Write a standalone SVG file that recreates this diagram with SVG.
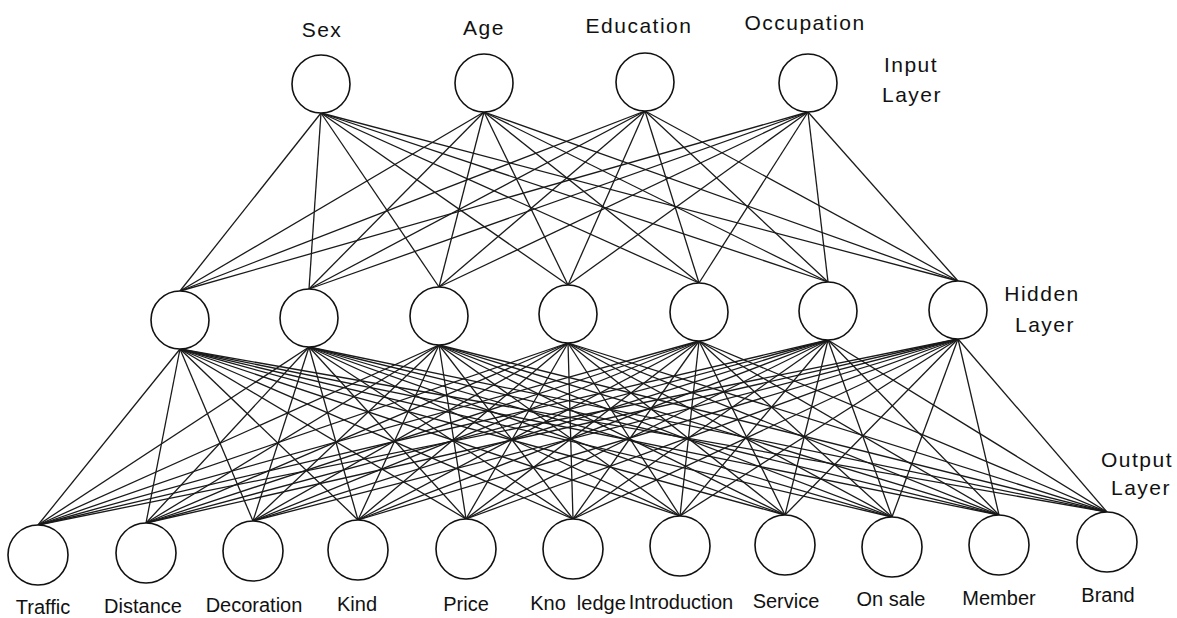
<svg xmlns="http://www.w3.org/2000/svg" width="1177" height="618" viewBox="0 0 1177 618">
<style>
.n{fill:#fff;stroke:#111;stroke-width:1.6}
.e line{stroke:#1a1a1a;stroke-width:1.3}
.t{font-family:"Liberation Sans",Arial,sans-serif;font-size:21px;fill:#111;text-anchor:middle;letter-spacing:1.5px}
.o{font-family:"Liberation Sans",Arial,sans-serif;font-size:20px;fill:#111;text-anchor:middle}
</style>
<rect width="1177" height="618" fill="#fff"/>
<g id="connectors" class="e">
<line x1="321" y1="113" x2="180" y2="291"/><line x1="321" y1="113" x2="309" y2="289"/><line x1="321" y1="113" x2="439" y2="287"/><line x1="321" y1="113" x2="568" y2="285"/><line x1="321" y1="113" x2="699" y2="283"/><line x1="321" y1="113" x2="828" y2="282"/><line x1="321" y1="113" x2="958" y2="281"/>
<line x1="484" y1="112" x2="180" y2="291"/><line x1="484" y1="112" x2="309" y2="289"/><line x1="484" y1="112" x2="439" y2="287"/><line x1="484" y1="112" x2="568" y2="285"/><line x1="484" y1="112" x2="699" y2="283"/><line x1="484" y1="112" x2="828" y2="282"/><line x1="484" y1="112" x2="958" y2="281"/>
<line x1="645" y1="111" x2="180" y2="291"/><line x1="645" y1="111" x2="309" y2="289"/><line x1="645" y1="111" x2="439" y2="287"/><line x1="645" y1="111" x2="568" y2="285"/><line x1="645" y1="111" x2="699" y2="283"/><line x1="645" y1="111" x2="828" y2="282"/><line x1="645" y1="111" x2="958" y2="281"/>
<line x1="808" y1="112" x2="180" y2="291"/><line x1="808" y1="112" x2="309" y2="289"/><line x1="808" y1="112" x2="439" y2="287"/><line x1="808" y1="112" x2="568" y2="285"/><line x1="808" y1="112" x2="699" y2="283"/><line x1="808" y1="112" x2="828" y2="282"/><line x1="808" y1="112" x2="958" y2="281"/>
<line x1="180" y1="349" x2="38" y2="525"/><line x1="180" y1="349" x2="146" y2="523"/><line x1="180" y1="349" x2="253" y2="521"/><line x1="180" y1="349" x2="358" y2="520"/><line x1="180" y1="349" x2="466" y2="519"/><line x1="180" y1="349" x2="573" y2="519"/><line x1="180" y1="349" x2="680" y2="516"/><line x1="180" y1="349" x2="785" y2="515"/><line x1="180" y1="349" x2="892" y2="517"/><line x1="180" y1="349" x2="999" y2="515"/><line x1="180" y1="349" x2="1107" y2="512"/>
<line x1="309" y1="347" x2="38" y2="525"/><line x1="309" y1="347" x2="146" y2="523"/><line x1="309" y1="347" x2="253" y2="521"/><line x1="309" y1="347" x2="358" y2="520"/><line x1="309" y1="347" x2="466" y2="519"/><line x1="309" y1="347" x2="573" y2="519"/><line x1="309" y1="347" x2="680" y2="516"/><line x1="309" y1="347" x2="785" y2="515"/><line x1="309" y1="347" x2="892" y2="517"/><line x1="309" y1="347" x2="999" y2="515"/><line x1="309" y1="347" x2="1107" y2="512"/>
<line x1="439" y1="345" x2="38" y2="525"/><line x1="439" y1="345" x2="146" y2="523"/><line x1="439" y1="345" x2="253" y2="521"/><line x1="439" y1="345" x2="358" y2="520"/><line x1="439" y1="345" x2="466" y2="519"/><line x1="439" y1="345" x2="573" y2="519"/><line x1="439" y1="345" x2="680" y2="516"/><line x1="439" y1="345" x2="785" y2="515"/><line x1="439" y1="345" x2="892" y2="517"/><line x1="439" y1="345" x2="999" y2="515"/><line x1="439" y1="345" x2="1107" y2="512"/>
<line x1="568" y1="343" x2="38" y2="525"/><line x1="568" y1="343" x2="146" y2="523"/><line x1="568" y1="343" x2="253" y2="521"/><line x1="568" y1="343" x2="358" y2="520"/><line x1="568" y1="343" x2="466" y2="519"/><line x1="568" y1="343" x2="573" y2="519"/><line x1="568" y1="343" x2="680" y2="516"/><line x1="568" y1="343" x2="785" y2="515"/><line x1="568" y1="343" x2="892" y2="517"/><line x1="568" y1="343" x2="999" y2="515"/><line x1="568" y1="343" x2="1107" y2="512"/>
<line x1="699" y1="341" x2="38" y2="525"/><line x1="699" y1="341" x2="146" y2="523"/><line x1="699" y1="341" x2="253" y2="521"/><line x1="699" y1="341" x2="358" y2="520"/><line x1="699" y1="341" x2="466" y2="519"/><line x1="699" y1="341" x2="573" y2="519"/><line x1="699" y1="341" x2="680" y2="516"/><line x1="699" y1="341" x2="785" y2="515"/><line x1="699" y1="341" x2="892" y2="517"/><line x1="699" y1="341" x2="999" y2="515"/><line x1="699" y1="341" x2="1107" y2="512"/>
<line x1="828" y1="340" x2="38" y2="525"/><line x1="828" y1="340" x2="146" y2="523"/><line x1="828" y1="340" x2="253" y2="521"/><line x1="828" y1="340" x2="358" y2="520"/><line x1="828" y1="340" x2="466" y2="519"/><line x1="828" y1="340" x2="573" y2="519"/><line x1="828" y1="340" x2="680" y2="516"/><line x1="828" y1="340" x2="785" y2="515"/><line x1="828" y1="340" x2="892" y2="517"/><line x1="828" y1="340" x2="999" y2="515"/><line x1="828" y1="340" x2="1107" y2="512"/>
<line x1="958" y1="339" x2="38" y2="525"/><line x1="958" y1="339" x2="146" y2="523"/><line x1="958" y1="339" x2="253" y2="521"/><line x1="958" y1="339" x2="358" y2="520"/><line x1="958" y1="339" x2="466" y2="519"/><line x1="958" y1="339" x2="573" y2="519"/><line x1="958" y1="339" x2="680" y2="516"/><line x1="958" y1="339" x2="785" y2="515"/><line x1="958" y1="339" x2="892" y2="517"/><line x1="958" y1="339" x2="999" y2="515"/><line x1="958" y1="339" x2="1107" y2="512"/>
</g>
<g id="input-layer">
<g id="in-sex"><circle class="n" cx="321" cy="84" r="29"/><text class="t" x="322" y="37">Sex</text></g>
<g id="in-age"><circle class="n" cx="484" cy="83" r="29"/><text class="t" x="484" y="35">Age</text></g>
<g id="in-education"><circle class="n" cx="645" cy="82" r="29"/><text class="t" x="639" y="33">Education</text></g>
<g id="in-occupation"><circle class="n" cx="808" cy="83" r="29"/><text class="t" x="805" y="30">Occupation</text></g>
<g id="input-label"><text class="t" x="911" y="72">Input</text><text class="t" x="912" y="102">Layer</text></g>
</g>
<g id="hidden-layer">
<g id="h1"><circle class="n" cx="180" cy="320" r="29"/></g>
<g id="h2"><circle class="n" cx="309" cy="318" r="29"/></g>
<g id="h3"><circle class="n" cx="439" cy="316" r="29"/></g>
<g id="h4"><circle class="n" cx="568" cy="314" r="29"/></g>
<g id="h5"><circle class="n" cx="699" cy="312" r="29"/></g>
<g id="h6"><circle class="n" cx="828" cy="311" r="29"/></g>
<g id="h7"><circle class="n" cx="958" cy="310" r="29"/></g>
<g id="hidden-label"><text class="t" x="1042" y="301">Hidden</text><text class="t" x="1045" y="332">Layer</text></g>
</g>
<g id="output-layer">
<g id="o-traffic"><circle class="n" cx="38" cy="555" r="30"/><text class="o" x="43" y="614">Traffic</text></g>
<g id="o-distance"><circle class="n" cx="146" cy="553" r="30"/><text class="o" x="143" y="613">Distance</text></g>
<g id="o-decoration"><circle class="n" cx="253" cy="551" r="30"/><text class="o" x="254" y="612">Decoration</text></g>
<g id="o-kind"><circle class="n" cx="358" cy="550" r="30"/><text class="o" x="357" y="611">Kind</text></g>
<g id="o-price"><circle class="n" cx="466" cy="549" r="30"/><text class="o" x="466" y="611">Price</text></g>
<g id="o-knowledge"><circle class="n" cx="573" cy="549" r="30"/><text class="o" x="578" y="610" xml:space="preserve">Kno  ledge</text></g>
<g id="o-introduction"><circle class="n" cx="680" cy="546" r="30"/><text class="o" x="681" y="609">Introduction</text></g>
<g id="o-service"><circle class="n" cx="785" cy="545" r="30"/><text class="o" x="786" y="608">Service</text></g>
<g id="o-onsale"><circle class="n" cx="892" cy="547" r="30"/><text class="o" x="891" y="606">On sale</text></g>
<g id="o-member"><circle class="n" cx="999" cy="545" r="30"/><text class="o" x="999" y="605">Member</text></g>
<g id="o-brand"><circle class="n" cx="1107" cy="542" r="30"/><text class="o" x="1108" y="602">Brand</text></g>
<g id="output-label"><text class="t" x="1137" y="467">Output</text><text class="t" x="1141" y="495">Layer</text></g>
</g>
</svg>
